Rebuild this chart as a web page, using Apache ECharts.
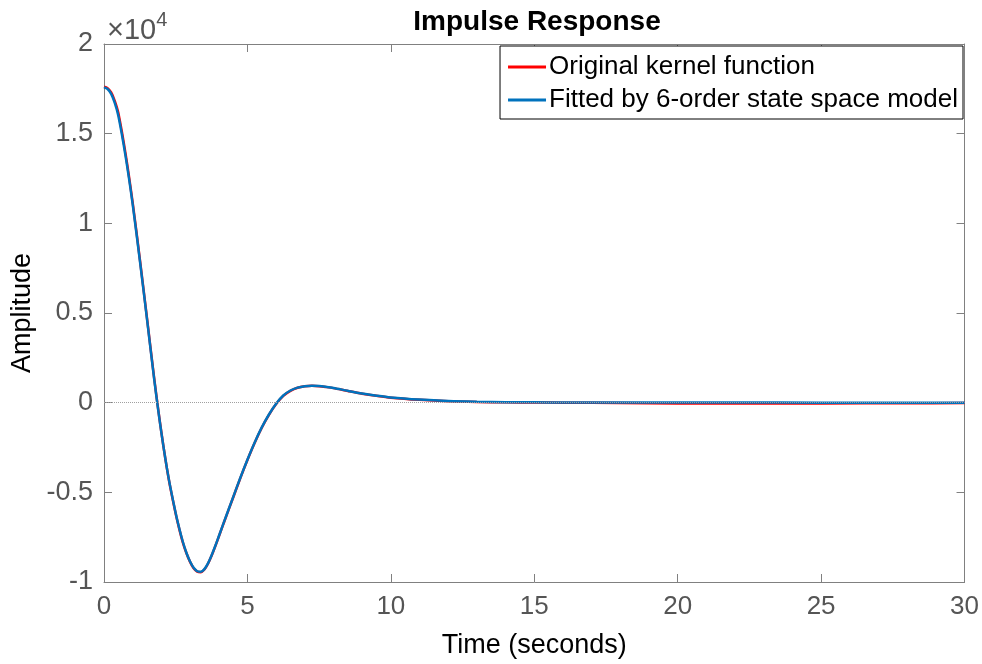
<!DOCTYPE html>
<html>
<head>
<meta charset="utf-8">
<script src="https://cdn.jsdelivr.net/npm/echarts@6/dist/echarts.min.js"></script>
<style>html,body{margin:0;padding:0;background:#fff;}#c{width:982px;height:664px;}</style>
</head>
<body>
<div id="c"></div>
<script>
const time = [0,0.125,0.25,0.375,0.5,0.75,1,1.25,1.5,1.75,2,2.25,2.5,2.625,2.75,2.875,3,3.125,3.25,3.375,3.5,3.625,3.75,3.875,4,4.125,4.25,4.5,4.75,5,5.25,5.5,5.75,6,6.25,6.5,6.75,7,7.25,7.5,7.75,8,8.5,9,9.5,10,11,12,13,14,15,16,18,20,22,25,28,30];
const original = [17620,17540,17300,16830,16150,13900,11150,8000,4700,1350,-1650,-4200,-6200,-7050,-7800,-8400,-8880,-9230,-9420,-9450,-9300,-8980,-8540,-8030,-7480,-6930,-6380,-5300,-4220,-3200,-2250,-1400,-680,-80,380,660,830,910,940,920,870,810,650,500,380,280,160,80,40,20,10,0,-20,-40,-50,-40,-30,-20];
const fitted = [17580,17490,17220,16720,16000,13760,11060,7920,4650,1300,-1670,-4180,-6170,-7020,-7770,-8380,-8860,-9210,-9400,-9430,-9280,-8960,-8520,-8010,-7460,-6910,-6360,-5280,-4200,-3180,-2230,-1380,-660,-60,400,680,840,920,950,930,880,820,660,510,390,290,170,90,50,30,20,10,10,5,3,2,1,0];
const xTicks = [0,5,10,15,20,25,30];
const yTicks = [-10000,-5000,0,5000,10000,15000,20000];
const seriesNames = ['Original kernel function','Fitted by 6-order state space model'];

const font = 'Liberation Sans, Arial, sans-serif';
const chart = echarts.init(document.getElementById('c'), null, {renderer:'canvas'});
const axisGray = '#808080';
const labelGray = '#555555';
const pair = (xs, ys) => xs.map((x,i)=>[x, ys[i]]);

chart.setOption({
  animation: false,
  backgroundColor: '#fff',
  title: {
    text: 'Impulse Response',
    left: 532, top: 3, textAlign: 'center',
    textStyle: {fontFamily: font, fontSize: 28, fontWeight: 'bold', color: '#000'}
  },
  grid: {left:104, right:17, top:44, bottom:82, containLabel:false},
  legend: {
    orient: 'vertical', right: 19, top: 46,
    data: seriesNames,
    icon: 'path://M0,0 L40,0 L40,3 L0,3 Z',
    backgroundColor: '#fff', borderColor: '#000', borderWidth: 1, borderRadius: 0,
    padding: [8, 5, 6, 8], itemWidth: 38, itemHeight: 3, itemGap: 7,
    textStyle: {fontFamily: font, fontSize: 26, color: '#000', lineHeight: 26, padding:[0,0,0,-2]}
  },
  graphic: [{
    type: 'text', left: 107, top: 10,
    style: {
      text: '{a|×10}{b|4}',
      rich: {
        a: {fontFamily: font, fontSize: 29, fill: labelGray, verticalAlign:'bottom'},
        b: {fontFamily: font, fontSize: 20, fill: labelGray, verticalAlign:'top', padding:[0,0,15,0]}
      }
    }
  }],
  xAxis: [{
    type: 'value', min: 0, max: 30, interval: 5,
    name: 'Time (seconds)', nameLocation: 'middle', nameGap: 50,
    nameTextStyle: {fontFamily: font, fontSize: 27, color: '#000'},
    axisLine: {show:true, onZero:false, lineStyle:{color:axisGray, width:1}},
    axisTick: {show:true, inside:true, length:8, lineStyle:{color:axisGray}},
    axisLabel: {fontFamily: font, fontSize: 26, color: labelGray, margin: 12,
      formatter: v => xTicks.includes(v) ? String(v) : ''},
    splitLine: {show:false}
  },{
    type: 'value', min: 0, max: 30, interval: 5, position: 'top',
    axisLine: {show:true, onZero:false, lineStyle:{color:axisGray, width:1}},
    axisTick: {show:true, inside:true, length:8, lineStyle:{color:axisGray}},
    axisLabel: {show:false}, splitLine: {show:false}
  }],
  yAxis: [{
    type: 'value', min: -10000, max: 20000, interval: 5000,
    name: 'Amplitude', nameLocation: 'middle', nameGap: 68, nameRotate: 90,
    nameTextStyle: {fontFamily: font, fontSize: 27, color: '#000'},
    axisLine: {show:true, onZero:false, lineStyle:{color:axisGray, width:1}},
    axisTick: {show:true, inside:true, length:8, lineStyle:{color:axisGray}},
    axisLabel: {fontFamily: font, fontSize: 27, color: labelGray, margin: 11,
      formatter: v => yTicks.includes(v) ? String(v/10000) : ''},
    splitLine: {show:false}
  },{
    type: 'value', min: -10000, max: 20000, interval: 5000, position: 'right',
    axisLine: {show:true, onZero:false, lineStyle:{color:axisGray, width:1}},
    axisTick: {show:true, inside:true, length:8, lineStyle:{color:axisGray}},
    axisLabel: {show:false}, splitLine: {show:false}
  }],
  series: [{
    name: seriesNames[0], type: 'line', data: pair(time, original),
    smooth: 0.3, symbol: 'none', xAxisIndex: 0, yAxisIndex: 0,
    lineStyle: {color: '#ff0000', width: 2.5}, itemStyle: {color: '#ff0000'},
    markLine: {
      silent: true, symbol: 'none', label: {show:false},
      lineStyle: {color:'#a0a0a0', type:'dotted', width:1},
      data: [{yAxis: 0}]
    },
    z: 2
  },{
    name: seriesNames[1], type: 'line', data: pair(time, fitted),
    smooth: 0.3, symbol: 'none', xAxisIndex: 0, yAxisIndex: 0,
    lineStyle: {color: '#0072bd', width: 2.5}, itemStyle: {color: '#0072bd'},
    z: 3
  }]
});
</script>
</body>
</html>
